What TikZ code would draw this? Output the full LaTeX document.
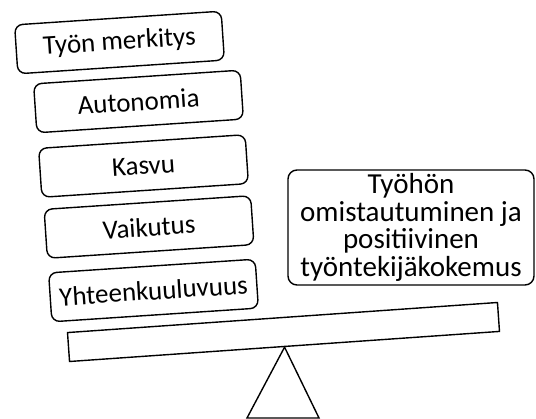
\documentclass[tikz,border=0pt]{standalone}
\usepackage{fontspec}
\setmainfont{Carlito}
\usepackage{tikz}
\tikzstyle{factor} = [draw, rounded corners=8pt, line width=1.4pt, rectangle,
    minimum width=207pt, minimum height=49pt, rotate=3.8,
    font=\fontsize{27}{30}\selectfont]
\tikzstyle{outcome} = [draw, rounded corners=9pt, line width=1.4pt, rectangle,
    minimum width=246pt, minimum height=115pt, align=center, inner sep=0pt,
    font=\fontsize{29}{27.7}\selectfont]
\tikzstyle{beam} = [draw, line width=1.4pt, rectangle,
    minimum width=431pt, minimum height=29pt, rotate=4]

\begin{document}
\begin{tikzpicture}[x=1pt, y=-1pt]
    \useasboundingbox (0,0) rectangle (536,419);
    \node [factor] (merkitys) at (119.5,42.5) {Työn merkitys};
    \node [factor] (autonomia) at (138.5,101.5) {Autonomia};
    \node [factor] (kasvu) at (143.5,166) {Kasvu};
    \node [factor] (vaikutus) at (149,227) {Vaikutus};
    \node [factor] (yhteys) at (153.5,290.5) {Yhteenkuuluvuus};
    \node [outcome] (tulos) at (411,227.5) {Työhön\\omistautuminen ja\\positiivinen\\työntekijäkokemus};
    \node [beam] (vipu) at (283.5,332) {};
    \coordinate (jalkaL) at (247,418);
    \coordinate (jalkaR) at (319,418);
    \draw [line width=1.4pt, line join=miter] (vipu.south) -- (jalkaR) -- (jalkaL) -- cycle;
\end{tikzpicture}
\end{document}
